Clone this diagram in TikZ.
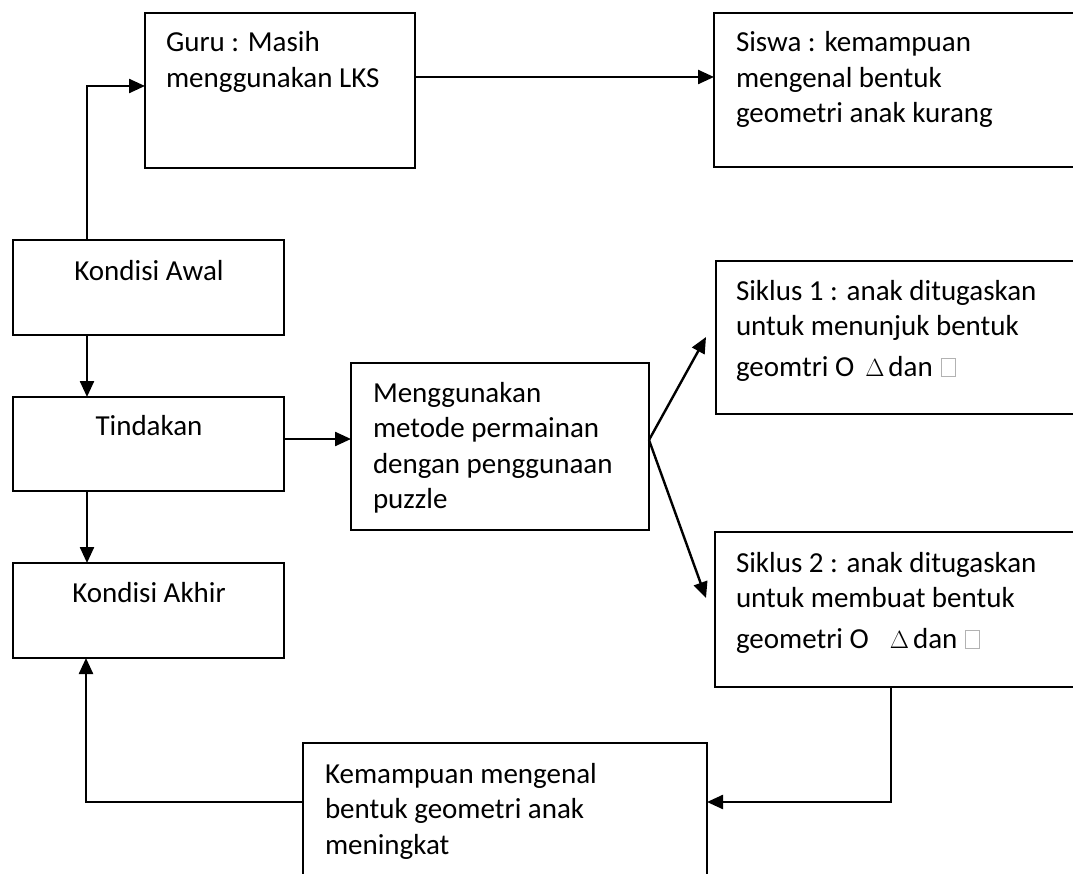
\documentclass[tikz,border=0pt]{standalone}
\usepackage{fontspec}
\setmainfont{Carlito}
\usetikzlibrary{arrows.meta,calc}
\newcommand\emptyglyph{{\color{gray!60}\setlength{\fboxsep}{0pt}\setlength{\fboxrule}{0.9pt}\fbox{\rule{0pt}{17pt}\hspace{13pt}}}}
\newcommand\bigdelta{\raisebox{0pt}{\fontsize{32}{35.5}\selectfont$\Delta$}}
\begin{document}
\begin{tikzpicture}[x=1pt,y=-1pt,
  box/.style={draw, line width=2.6pt, inner sep=0pt, outer sep=0pt, anchor=north west},
  txt/.style={font=\fontsize{29}{35.5}\selectfont, inner sep=0pt, outer sep=0pt, align=left, anchor=base west},
  ctxt/.style={font=\fontsize{29}{35.5}\selectfont, inner sep=0pt, outer sep=0pt, anchor=base},
  arr/.style={line width=2.4pt, -{Triangle[length=16pt,width=14pt]}}]
\useasboundingbox (0,0) rectangle (1073,874);
\fill[white] (0,0) rectangle (1073,874);
\clip (0,0) rectangle (1073,874);
% boxes
\node[box, minimum width=271pt, minimum height=95pt] (awal) at (13,240) {};
\node[box, minimum width=271pt, minimum height=94pt] (tind) at (13,397) {};
\node[box, minimum width=271pt, minimum height=95pt] (akhir) at (13,563) {};
\node[box, minimum width=270pt, minimum height=155pt] (guru) at (145,13) {};
\node[box, minimum width=400pt, minimum height=154pt] (siswa) at (714,13) {};
\node[box, minimum width=298pt, minimum height=167pt] (meng) at (351,363) {};
\node[box, minimum width=400pt, minimum height=153pt] (sik1) at (716,261) {};
\node[box, minimum width=400pt, minimum height=155pt] (sik2) at (715,532) {};
\node[box, minimum width=404pt, minimum height=160pt] (kem) at (303,743) {};
% texts (anchored at the baseline of the last line)
\node[ctxt] (awalt) at (149,281) {Kondisi Awal};
\node[ctxt] (tindt) at (149,435) {Tindakan};
\node[ctxt] (akhirt) at (149,602) {Kondisi Akhir};
\node[txt] (gurut) at (166,87.5) {Guru : Masih\\menggunakan LKS};
\node[txt] (siswat) at (736,123) {Siswa : kemampuan\\mengenal bentuk\\geometri anak kurang};
\node[txt] (mengt) at (373,508.5) {Menggunakan\\metode permainan\\dengan penggunaan\\puzzle};
\node[txt] (sik1t) at (736,376) {Siklus 1 : anak ditugaskan\\untuk menunjuk bentuk\\[5pt]geomtri O\hspace{11pt}\bigdelta\hspace{4pt}dan\hspace{8pt}\emptyglyph};
\node[txt] (sik2t) at (736,648) {Siklus 2 : anak ditugaskan\\untuk membuat bentuk\\[5pt]geometri O\hspace{21pt}\bigdelta\hspace{4pt}dan\hspace{8pt}\emptyglyph};
\node[txt] (kemt) at (325,854) {Kemampuan mengenal\\bentuk geometri anak\\meningkat};
% connectors
\coordinate (p1) at ([xshift=74pt]awal.north west);
\coordinate (p2) at ([yshift=4.5pt]guru.west);
\draw[arr] (p1) |- (p2);
\draw[arr] ([yshift=13.5pt]guru.east) -- ([yshift=13pt]siswa.west);
\draw[arr] ([xshift=74pt]awal.south west) -- ([xshift=74pt]tind.north west);
\draw[arr] ([xshift=74pt]tind.south west) -- ([xshift=74pt]akhir.north west);
\draw[arr] ([yshift=5pt]tind.east) -- ([yshift=7.5pt]meng.west);
\coordinate (m1) at ([yshift=6.5pt]meng.east);
\coordinate (s1) at ([xshift=-10pt,yshift=0.5pt]sik1.west);
\coordinate (s2) at ([xshift=-9pt,yshift=-66pt]sik2.north west);
\draw[arr] (m1) -- (s1);
\draw[arr] (m1) -- (s2);
\coordinate (k1) at ([xshift=176pt]sik2.south west);
\coordinate (k2) at ([yshift=-59pt]kem.north east);
\draw[arr] (k1) |- (k2);
\coordinate (k3) at ([yshift=-59pt]kem.north west);
\draw[arr] (k3) -| ([xshift=73pt]akhir.south west);
\end{tikzpicture}
\end{document}
